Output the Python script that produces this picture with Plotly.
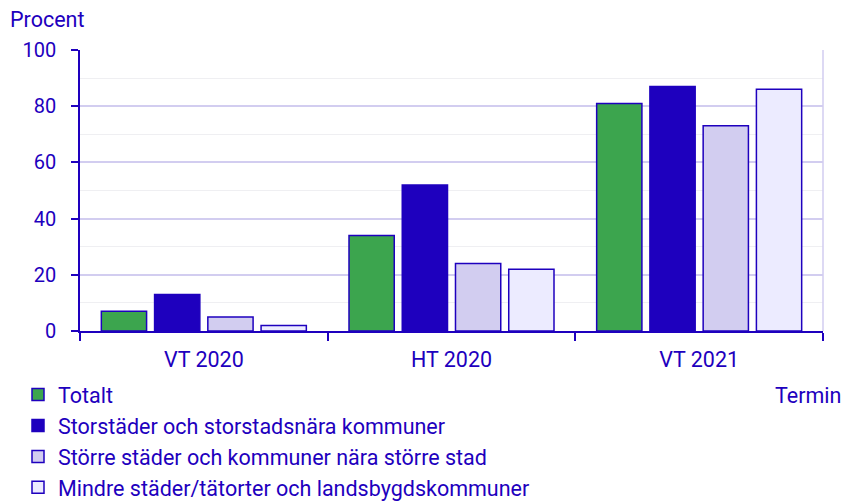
import plotly.graph_objects as go

categories = ["VT 2020", "HT 2020", "VT 2021"]
series_names = [
    "Totalt",
    "Storstäder och storstadsnära kommuner",
    "Större städer och kommuner nära större stad",
    "Mindre städer/tätorter och landsbygdskommuner",
]
totalt = [7, 34, 81]
storstader = [13, 52, 87]
storre = [5, 24, 73]
mindre = [2, 22, 86]
y_ticks = [0, 20, 40, 60, 80, 100]

DARK = "#1e00be"
colors = ["#3ca54e", DARK, "#d2cdf0", "#ecebff"]
values = [totalt, storstader, storre, mindre]

fig = go.Figure()
for i, (name, vals, col) in enumerate(zip(series_names, values, colors)):
    fig.add_trace(go.Bar(
        x=categories, y=vals, name=name,
        marker=dict(color=col, line=dict(color=DARK, width=1.5)),
        legendgroup=f"g{i}",
    ))

W, H = 837, 494
L, R, T, B = 72, 22, 42, 171
PW, PH = W - L - R, H - T - B

font = dict(family="Roboto", size=20, color=DARK)
bigfont = dict(family="Roboto", size=21.5, color=DARK)
fig.update_layout(
    width=W, height=H,
    margin=dict(l=L, r=R, t=T, b=B, autoexpand=False),
    plot_bgcolor="white", paper_bgcolor="white",
    font=font,
    barmode="group", bargap=0.14, bargroupgap=0.15,
    showlegend=True,
    legend=dict(orientation="v", xref="container", yref="container",
                x=10 / W, xanchor="left", y=1 - 366 / H, yanchor="top",
                font=bigfont, tracegroupgap=9, traceorder="normal",
                itemwidth=30, bgcolor="rgba(0,0,0,0)"),
    xaxis=dict(
        showline=True, linecolor=DARK, linewidth=1.5,
        ticks="outside", tickson="boundaries", ticklen=8, tickcolor=DARK, tickwidth=1.5,
        showgrid=False, tickfont=bigfont, ticklabelstandoff=8,
    ),
    yaxis=dict(
        range=[0, 100], tickvals=y_ticks, showline=True, linecolor=DARK, linewidth=1.5,
        ticks="outside", ticklen=7, tickcolor=DARK, tickwidth=1.5,
        showgrid=True, gridcolor="#d2cdf0", gridwidth=1.5,
        minor=dict(dtick=10, showgrid=True, gridcolor="#efeff2", gridwidth=1),
        zeroline=False, tickfont=font, ticklabelstandoff=11,
    ),
    shapes=[dict(type="line", xref="paper", yref="paper", x0=1, x1=1, y0=0, y1=1,
                 line=dict(color="#d2cdf0", width=1.5))],
    annotations=[
        dict(text="Procent", xref="paper", yref="paper", x=(0 - L) / PW, y=1 + (T - 12) / PH,
             xanchor="left", yanchor="middle", showarrow=False, font=bigfont),
        dict(text="Termin", xref="paper", x=(W - 2 - L) / PW, xanchor="right", yref="paper",
             y=-(387 - (T + PH)) / PH, yanchor="middle", showarrow=False, font=bigfont),
    ],
)

fig.write_html("out.html")
